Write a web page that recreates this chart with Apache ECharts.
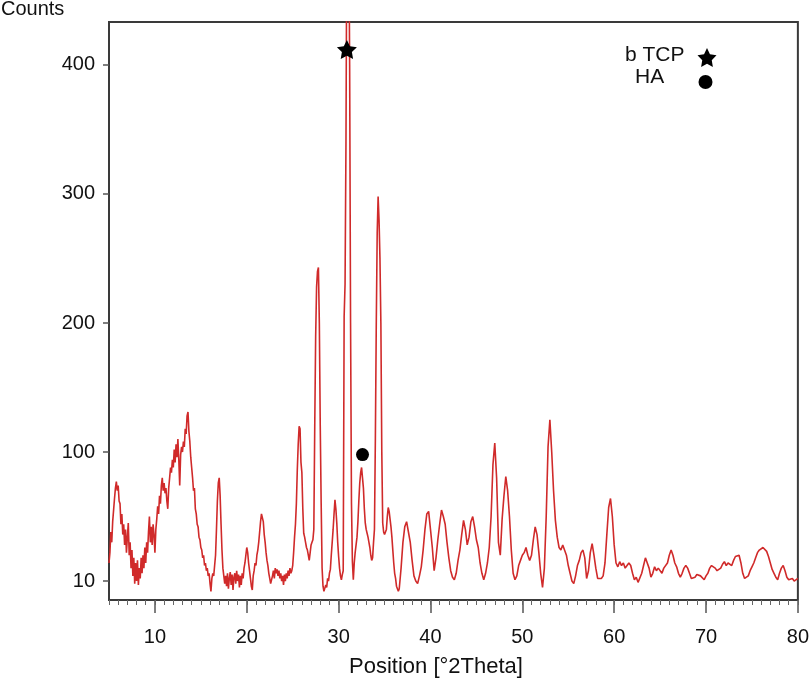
<!DOCTYPE html>
<html>
<head>
<meta charset="utf-8">
<script src="https://cdn.jsdelivr.net/npm/echarts@6/dist/echarts.min.js"></script>
<style>
html,body{margin:0;padding:0;background:#fff;}
#chart{width:812px;height:684px;}
</style>
</head>
<body>
<div id="chart"></div>
<script>
// ---- data (x: °2Theta, y: counts in axis units) ----
const xTickValues = [10, 20, 30, 40, 50, 60, 70, 80];
const yTickValues = [0, 100, 200, 300, 400];
const yTickLabels = ['10', '100', '200', '300', '400'];

const scanLow = [
[5.0,14],[5.1,22],[5.2,38],[5.3,30],[5.4,46],[5.5,55],[5.6,64],[5.7,72],[5.8,77],[5.9,70],
[6.0,74],[6.1,62],[6.2,60],[6.3,44],[6.4,52],[6.5,36],[6.6,44],[6.7,28],[6.8,40],[6.9,22],
[7.0,34],[7.1,45],[7.2,20],[7.3,30],[7.4,10],[7.5,24],[7.6,4],[7.7,18],[7.8,-2],[7.9,14],
[8.0,0],[8.1,16],[8.2,-3],[8.3,10],[8.4,2],[8.5,18],[8.6,6],[8.7,20],[8.8,10],[8.9,26],
[9.0,14],[9.1,30],[9.2,22],[9.3,38],[9.4,50],[9.5,30],[9.6,42],[9.7,28],[9.8,44],[9.9,36],
[10.0,22],[10.1,40],[10.2,48],[10.3,58],[10.4,52],[10.5,66],[10.6,60],[10.7,74],[10.8,80],[10.9,70],
[11.0,76],[11.1,68],[11.2,72],[11.3,62],[11.4,56],[11.5,72],[11.6,80],[11.7,88],[11.8,84],[11.9,94],
[12.0,88],[12.1,102],[12.2,92],[12.3,106],[12.4,96],[12.5,110],[12.6,94],[12.7,74],[12.8,98],[12.9,104],
[13.0,100],[13.1,108],[13.2,104],[13.3,118],[13.4,114],[13.5,128],[13.6,131],[13.7,116],[13.8,108],[13.9,96],
[14.0,88],[14.1,80],[14.2,70],[14.3,72],[14.4,56],[14.5,52],[14.6,44],[14.7,42],[14.8,34],[14.9,32],
[15.0,26],[15.1,24],[15.2,18],[15.3,20],[15.4,12],[15.5,14],[15.6,8],[15.7,10],[15.8,4],[15.9,6],
[16.0,-2],[16.1,-8],[16.2,2],[16.3,6],[16.4,4],[16.5,12],[16.6,20],[16.7,40],[16.8,62],[16.9,76],
[17.0,80],[17.1,66],[17.2,44],[17.3,24],[17.4,10],[17.5,4],[17.6,-2],[17.7,4],[17.8,-4],[17.9,6],
[18.0,-6],[18.1,2],[18.2,7],[18.3,-3],[18.4,5],[18.5,-7],[18.6,3],[18.7,6],[18.8,-2],[18.9,8],
[19.0,0],[19.1,5],[19.2,-5],[19.3,4],[19.4,-3],[19.5,6],[19.6,2],[19.7,10],[19.8,14],[19.9,20],
[20.0,26],[20.1,22],[20.2,14],[20.3,8],[20.4,2],[20.5,-4],[20.6,-7],[20.7,4],[20.8,8],[20.9,14],
[21.0,12],[21.1,20],[21.2,24],[21.3,30],[21.4,38],[21.5,46],[21.6,52],[21.7,53],[21.8,46],[21.9,36],
[22.0,30],[22.1,22],[22.2,16],[22.3,12],[22.4,6],[22.5,2],[22.6,-2],[22.7,-3],[22.8,4],[22.9,8],
[23.0,2],[23.1,10],[23.2,6],[23.3,9],[23.4,4],[23.5,8],[23.6,2],[23.7,6],[23.8,0],[23.9,4],
[24.0,-3],[24.1,5],[24.2,0],[24.3,6],[24.4,2],[24.5,8],[24.6,4],[24.7,10],[24.8,6],[24.9,8]
];

const scanMain = [
[25.0,12],[25.1,22],[25.2,34],[25.3,44],[25.4,60],[25.5,86],[25.6,106],[25.7,120],[25.8,118],[25.9,92],
[26.0,84],[26.1,56],[26.2,37],[26.3,34],[26.4,30],[26.5,26],[26.6,24],[26.7,20],[26.8,16],[26.9,22],
[27.0,28],[27.1,30],[27.2,32],[27.3,40],[27.4,120],[27.5,190],[27.6,228],[27.7,240],[27.8,243],[27.9,200],
[28.0,120],[28.1,60],[28.2,10],[28.3,-4],[28.4,-8],[28.5,-9],[28.6,-3],[28.7,-5],[28.8,2],[28.9,0],
[29.0,6],[29.1,9],[29.2,20],[29.3,30],[29.4,40],[29.5,52],[29.6,63],[29.7,56],[29.8,45],[29.9,30],
[30.0,19],[30.1,10],[30.2,4],[30.3,1],[30.4,5],[30.5,8],[30.6,205],[30.7,230],[30.8,340],[30.9,520],
[31.0,540],[31.1,520],[31.2,400],[31.3,200],[31.4,60],[31.5,15],[31.6,1],[31.7,14],[31.8,22],[31.9,28],
[32.0,34],[32.1,46],[32.2,62],[32.3,76],[32.4,84],[32.5,88],[32.6,80],[32.7,72],[32.8,56],[32.9,45],
[33.0,40],[33.1,37],[33.2,34],[33.3,30],[33.4,26],[33.5,20],[33.6,16],[33.7,18],[33.8,30],[33.9,40],
[34.0,110],[34.1,200],[34.2,270],[34.3,298],[34.4,280],[34.5,250],[34.6,200],[34.7,100],[34.8,45],[34.9,38],
[35.0,36],[35.1,37],[35.2,40],[35.3,50],[35.4,57],[35.5,54],[35.6,48],[35.7,42],[35.8,34],[35.9,24],
[36.0,14],[36.1,6],[36.2,2],[36.3,-4],[36.4,-6],[36.5,-8]
];

const scanHigh = [
[36.6,-6],[36.8,10],[37.0,30],[37.2,42],[37.4,46],[37.6,38],[37.8,30],[38.0,16],[38.2,4],[38.4,0],
[38.6,-2],[38.8,4],[39.0,11],[39.2,24],[39.4,40],[39.6,52],[39.8,54],[40.0,40],[40.2,26],[40.4,8],
[40.6,18],[40.8,32],[41.0,44],[41.2,55],[41.4,50],[41.6,44],[41.8,30],[42.0,18],[42.2,8],[42.4,3],
[42.6,1],[42.8,6],[43.0,16],[43.2,24],[43.4,36],[43.6,47],[43.8,40],[44.0,28],[44.2,34],[44.4,46],
[44.6,50],[44.8,42],[45.0,32],[45.2,26],[45.4,14],[45.6,6],[45.8,1],[46.0,6],[46.2,14],[46.4,26],
[46.6,50],[46.8,90],[47.0,107],[47.2,80],[47.4,30],[47.6,20],[47.8,48],[48.0,66],[48.2,81],[48.4,70],
[48.6,50],[48.8,24],[49.0,6],[49.2,1],[49.4,4],[49.6,12],[49.8,16],[50.0,20],[50.2,22],[50.4,26],
[50.6,20],[50.8,16],[51.0,20],[51.2,32],[51.4,42],[51.6,36],[51.8,22],[52.0,6],[52.2,-5],[52.4,10],
[52.6,50],[52.8,104],[53.0,125],[53.2,100],[53.4,70],[53.6,47],[53.8,34],[54.0,26],[54.2,24],[54.4,28],
[54.6,29],[54.8,20],[55.0,12],[55.2,6],[55.4,0],[55.6,-2],[55.8,4],[56.0,12],[56.2,16],[56.4,22],
[56.6,24],[56.8,18],[57.0,2],[57.2,8],[57.4,22],[57.6,29],[57.8,20],[58.0,10],[58.2,2],[58.4,1],
[58.6,2],[58.8,4],[59.0,14],[59.2,36],[59.4,57],[59.6,64],[59.8,50],[60.0,28],[60.2,14],[60.4,11],
[60.6,15],[60.8,12],[61.0,14],[61.2,10],[61.4,12],[61.6,14],[61.8,12],[62.0,6],[62.2,1],[62.4,3],
[62.6,-1],[62.8,0],[63.0,6],[63.2,12],[63.4,18],[63.6,19],[63.8,10],[64.0,3],[64.2,6],[64.4,11],
[64.6,8],[64.8,10],[65.0,9],[65.2,6],[65.4,10],[65.6,11],[65.8,14],[66.0,20],[66.2,24],[66.4,20],
[66.6,14],[66.8,11],[67.0,6],[67.2,3],[67.4,6],[67.6,10],[67.8,12],[68.0,10],[68.2,6],[68.4,2],
[68.6,1],[68.8,3],[69.0,5],[69.2,6],[69.4,4],[69.6,3],[69.8,1],[70.0,4],[70.2,6],[70.4,10],
[70.6,12],[70.8,12],[71.0,10],[71.2,8],[71.4,9],[71.6,10],[71.8,13],[72.0,15],[72.2,12],[72.4,14],
[72.6,14],[72.8,12],[73.0,16],[73.2,19],[73.4,18],[73.6,20],[73.8,14],[74.0,6],[74.2,2],[74.4,1],
[74.6,4],[74.8,8],[75.0,11],[75.2,14],[75.4,18],[75.6,22],[75.8,24],[76.0,25],[76.2,26],[76.4,26],
[76.6,23],[76.8,19],[77.0,14],[77.2,9],[77.4,6],[77.6,3],[77.8,1],[78.0,6],[78.2,10],[78.4,12],
[78.6,8],[78.8,3],[79.0,1],[79.2,2],[79.4,2],[79.6,0],[79.8,1],[80.0,2]
];

const tcpMarks = [[30.9, 412]];
const haMarks = [[32.6, 98]];

const STAR = 'path://M100,0 L129.4,59.5 L195.1,69.1 L147.6,115.5 L158.8,180.9 L100,150 L41.2,180.9 L52.4,115.5 L4.9,69.1 L70.6,59.5 Z';
const STAR_POINTS = [[100,0],[129.4,59.5],[195.1,69.1],[147.6,115.5],[158.8,180.9],[100,150],[41.2,180.9],[52.4,115.5],[4.9,69.1],[70.6,59.5]];
const FONT = "'Liberation Sans', Arial, Helvetica, sans-serif";

const pattern = scanLow.concat(scanMain, scanHigh);
const yLabelMap = {};
yTickValues.forEach((v, i) => { yLabelMap[v] = yTickLabels[i]; });

const chart = echarts.init(document.getElementById('chart'), null, {renderer: 'canvas'});
chart.setOption({
  animation: false,
  backgroundColor: '#ffffff',
  grid: {
    left: 109, right: 10, top: 22, bottom: 84,
    show: true, borderColor: '#3a3a3a', borderWidth: 2, backgroundColor: 'transparent'
  },
  xAxis: [
    {
      type: 'value', min: 5, max: 80, position: 'bottom',
      axisLine: {show: false, onZero: false},
      splitLine: {show: false},
      axisTick: {show: true, customValues: xTickValues, length: 13, lineStyle: {color: '#555', width: 1.5}},
      axisLabel: {customValues: xTickValues, fontSize: 20, color: '#111', margin: 27, fontFamily: FONT}
    },
    {
      type: 'value', min: 5, max: 80, interval: 1, position: 'bottom',
      axisLine: {show: false, onZero: false},
      splitLine: {show: false},
      axisTick: {show: true, length: 5, lineStyle: {color: '#666', width: 1}},
      axisLabel: {show: false}
    }
  ],
  yAxis: {
    type: 'value', min: -14.7, max: 433.3,
    axisLine: {show: false, onZero: false},
    splitLine: {show: false},
    axisTick: {show: true, customValues: yTickValues, length: 6, lineStyle: {color: '#555', width: 1.5}},
    axisLabel: {
      customValues: yTickValues, fontSize: 20, color: '#111', margin: 14, fontFamily: FONT,
      formatter: v => yLabelMap[v] !== undefined ? yLabelMap[v] : ''
    }
  },
  series: [
    {
      type: 'line', name: 'pattern', data: pattern, xAxisIndex: 0,
      showSymbol: false, symbol: 'none', smooth: false, clip: true,
      lineStyle: {color: '#d02a2a', width: 1.6}
    },
    {
      type: 'scatter', name: 'b TCP', data: tcpMarks, xAxisIndex: 0,
      symbol: STAR, symbolSize: [20, 19], itemStyle: {color: '#000', opacity: 1}, z: 5
    },
    {
      type: 'scatter', name: 'HA', data: haMarks, xAxisIndex: 0,
      symbol: 'circle', symbolSize: 13, itemStyle: {color: '#000', opacity: 1}, z: 5
    }
  ],
  graphic: [
    {type: 'text', x: 1, y: -1, style: {text: 'Counts', font: '20px ' + FONT, fill: '#111'}},
    {type: 'text', x: 349, y: 656, style: {text: 'Position [°2Theta]', font: '22px ' + FONT, fill: '#111'}},
    {type: 'text', x: 625, y: 45, style: {text: 'b TCP', font: '21px ' + FONT, fill: '#111'}},
    {type: 'text', x: 635, y: 67, style: {text: 'HA', font: '21px ' + FONT, fill: '#111'}},
    {type: 'polygon', x: 697, y: 48, scaleX: 0.1, scaleY: 0.105, shape: {points: STAR_POINTS}, style: {fill: '#000'}},
    {type: 'circle', shape: {cx: 705.5, cy: 82, r: 7}, style: {fill: '#000'}}
  ]
});
</script>
</body>
</html>
